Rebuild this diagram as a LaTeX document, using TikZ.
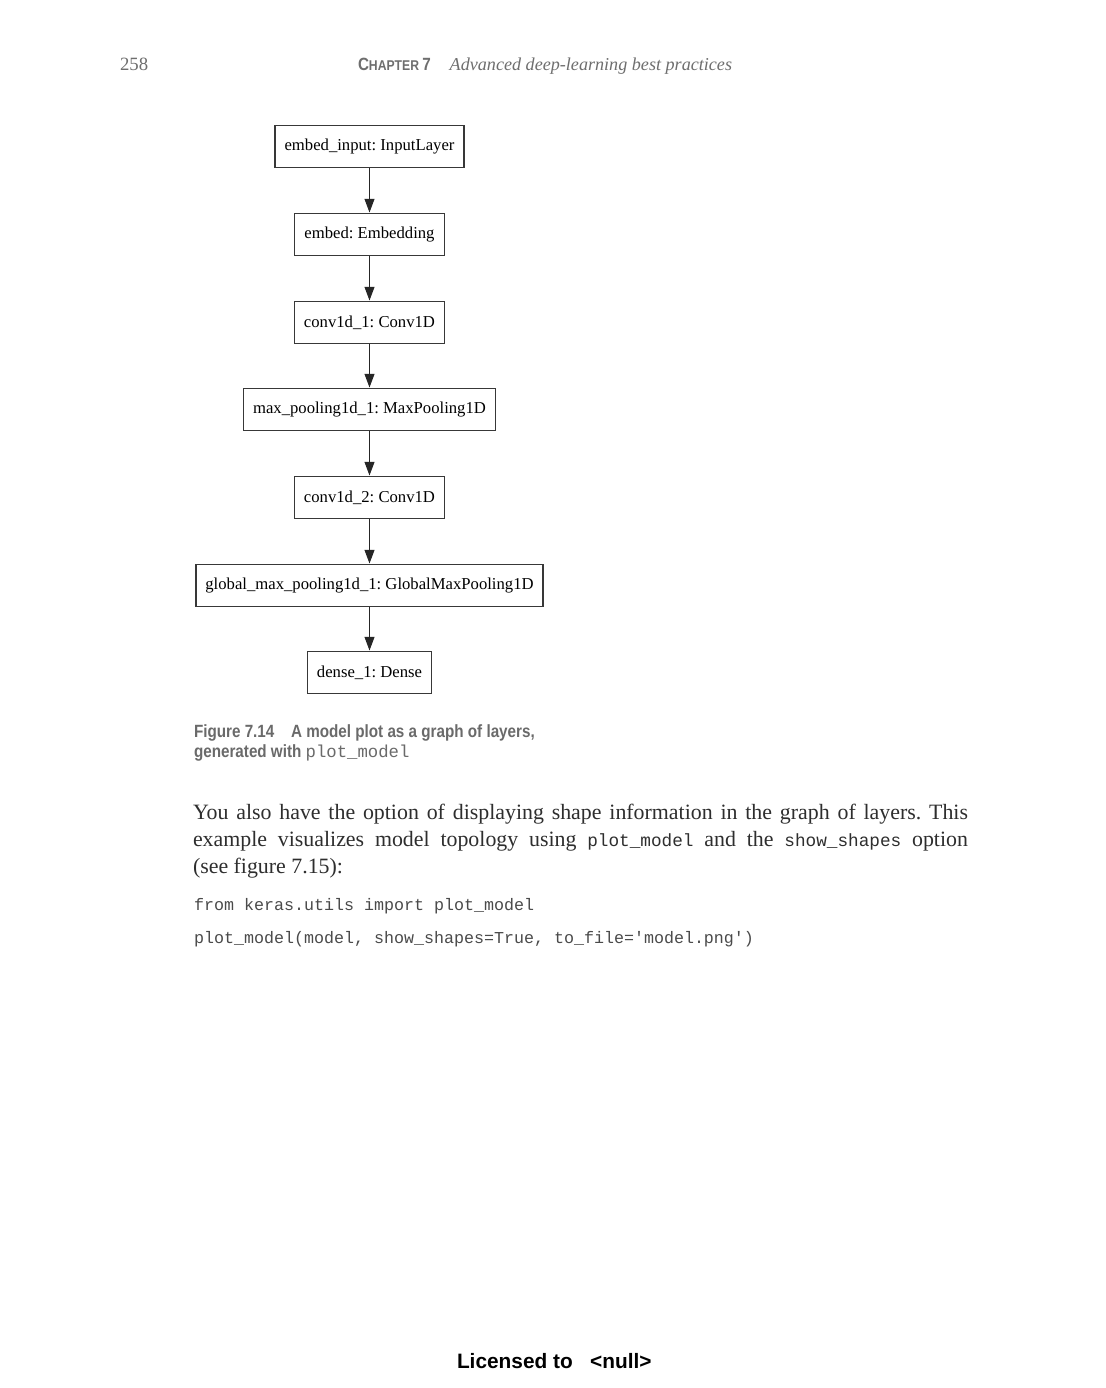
\documentclass[tikz,border=0pt]{standalone}
\usepackage{fontspec}
\setmainfont{Liberation Serif}
\setsansfont{Liberation Sans}
\setmonofont{Liberation Mono}
\newfontfamily\capfont[FakeStretch=0.86]{Liberation Sans}
\usetikzlibrary{arrows.meta}
\frenchspacing

\definecolor{headgray}{HTML}{6E6E6E}
\definecolor{capgray}{HTML}{6A6A6A}
\definecolor{bodyink}{HTML}{2E2E2E}
\definecolor{codeink}{HTML}{4A4A4A}

\newlength{\bodywidth}
\setlength{\bodywidth}{372pt}
\newcommand{\fullline}[1]{\hbox to \bodywidth{#1}}

\begin{document}
\begin{tikzpicture}[x=0.48pt,y=-0.48pt,
  layer/.style={draw=black!78, line width=0.5pt, fill=white,
    minimum width={#1*0.48pt}, minimum height=20.6pt, inner sep=0pt,
    font=\fontsize{8}{9}\selectfont},
  flow/.style={draw=black!85, line width=0.5pt,
    -{Triangle[width=4.8pt,length=6.6pt]}},
  txt/.style={anchor=base west, inner sep=0pt, outer sep=0pt}]

\fill[white] (0,0) rectangle (1106,1388);
\useasboundingbox (0,0) rectangle (1106,1388);

% running head
\node[txt, text=headgray, font=\fontsize{9}{11}\selectfont] (pagenum) at (120,70) {258};
\node[txt, text=headgray] (chap) at (358,70)
  {{\capfont\bfseries\fontsize{8.5}{10}\selectfont C\fontsize{6.8}{8}\selectfont HAPTER \fontsize{8.5}{10}\selectfont 7}\hspace{9pt}{\itshape\fontsize{8.7}{11}\selectfont Advanced deep-learning best practices}};

% layer graph
\node[layer=189] (inp)  at (369.5,146.5) {embed\_input: InputLayer};
\node[layer=150] (emb)  at (369.5,234.5) {embed: Embedding};
\node[layer=150] (cv1)  at (369.5,322.5) {conv1d\_1: Conv1D};
\node[layer=252] (mp1)  at (369.5,409.5) {max\_pooling1d\_1: MaxPooling1D};
\node[layer=150] (cv2)  at (369.5,497.5) {conv1d\_2: Conv1D};
\node[layer=347] (gmp)  at (369.5,585.5) {global\_max\_pooling1d\_1: GlobalMaxPooling1D};
\node[layer=124] (dns)  at (369.5,672.5) {dense\_1: Dense};

\draw[flow] (inp.south) -- (emb.north);
\draw[flow] (emb.south) -- (cv1.north);
\draw[flow] (cv1.south) -- (mp1.north);
\draw[flow] (mp1.south) -- (cv2.north);
\draw[flow] (cv2.south) -- (gmp.north);
\draw[flow] (gmp.south) -- (dns.north);

% caption
\node[txt, text=capgray, font=\capfont\bfseries\fontsize{8.5}{10}\selectfont] (cap1) at (194,737)
  {Figure 7.14\hspace{8pt}A model plot as a graph of layers,};
\node[txt, text=capgray, font=\capfont\bfseries\fontsize{8.5}{10}\selectfont] (cap2) at (194,757)
  {generated with {\ttfamily\mdseries\fontsize{8.3}{10}\selectfont plot\_model}};

% body paragraph
\node[txt, text=bodyink, font=\fontsize{10.5}{13}\selectfont] (par1) at (193,819)
  {\fullline{You also have the option of displaying shape information in the graph of layers. This}};
\node[txt, text=bodyink, font=\fontsize{10.5}{13}\selectfont] (par2) at (193,846)
  {\fullline{example visualizes model topology using {\ttfamily\fontsize{8.5}{10}\selectfont plot\_model} and the {\ttfamily\fontsize{8.5}{10}\selectfont show\_shapes} option}};
\node[txt, text=bodyink, font=\fontsize{10.5}{13}\selectfont] (par3) at (193,873)
  {(see figure 7.15):};

% code listing
\node[txt, text=codeink, font=\ttfamily\fontsize{8}{10}\selectfont] (code1) at (194,910)
  {from keras.utils import plot\_model};
\node[txt, text=codeink, font=\ttfamily\fontsize{8}{10}\selectfont] (code2) at (194,943)
  {plot\_model(model, show\_shapes=True, to\_file='model.png')};

% footer
\node[txt, font=\sffamily\bfseries\fontsize{10}{12}\selectfont] (foot) at (457,1368)
  {Licensed to \ \ <null>};
\end{tikzpicture}
\end{document}
